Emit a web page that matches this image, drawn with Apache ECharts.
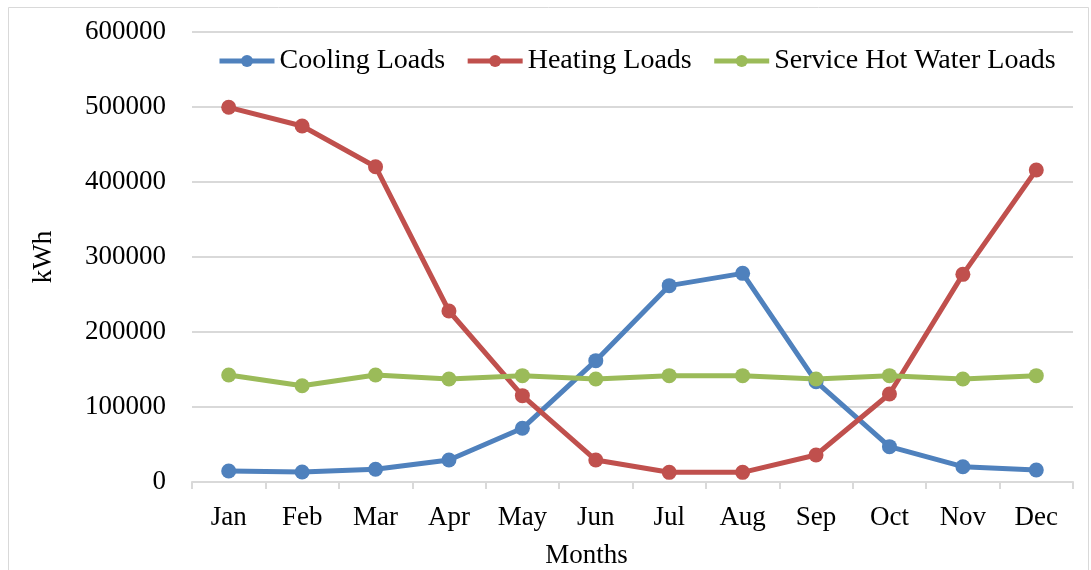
<!DOCTYPE html>
<html>
<head>
<meta charset="utf-8">
<script src="https://cdn.jsdelivr.net/npm/echarts@6/dist/echarts.min.js"></script>
<style>
  html, body { margin: 0; padding: 0; background: #fff; }
  #m1 { width: 1091px; height: 570px; }
</style>
</head>
<body>
<div id="m1"></div>
<script>
var months = ['Jan', 'Feb', 'Mar', 'Apr', 'May', 'Jun', 'Jul', 'Aug', 'Sep', 'Oct', 'Nov', 'Dec'];
var coolingLoads = [14700, 13300, 17000, 29300, 71600, 161800, 261800, 278200, 133800, 47100, 20400, 16000];
var heatingLoads = [499600, 474700, 420400, 228000, 115100, 29300, 12900, 12900, 36000, 117300, 276900, 416000];
var hotWaterLoads = [142700, 128400, 142700, 137300, 141800, 137300, 141800, 141800, 137300, 141800, 137300, 141800];
var seriesNames = ['Cooling Loads', 'Heating Loads', 'Service Hot Water Loads'];

var font = 'Liberation Serif';
var myChart = echarts.init(document.getElementById('m1'));

function lineSeries(name, data, color) {
    return {
        name: name,
        type: 'line',
        data: data,
        symbol: 'circle',
        symbolSize: 15,
        itemStyle: { color: color },
        lineStyle: { color: color, width: 5 }
    };
}

var option = {
    backgroundColor: '#fff',
    animation: false,
    graphic: [{
        type: 'rect',
        shape: { x: 8.5, y: 7.5, width: 1080, height: 570 },
        style: { fill: 'none', stroke: '#d9d9d9', lineWidth: 1 },
        z: -1
    }],
    legend: {
        data: seriesNames,
        left: 212,
        top: 42,
        itemWidth: 55,
        itemHeight: 15,
        itemGap: 20,
        lineStyle: { width: 5 },
        textStyle: { fontFamily: font, fontSize: 28, color: '#000' }
    },
    grid: { left: 192, right: 18, top: 32, bottom: 88, outerBoundsMode: 'none' },
    xAxis: {
        type: 'category',
        data: months,
        name: 'Months',
        nameLocation: 'middle',
        nameGap: 60,
        nameTextStyle: { fontFamily: font, fontSize: 27, color: '#000', padding: [0, 92, 0, 0] },
        axisLine: { lineStyle: { color: '#d9d9d9', width: 2 } },
        axisTick: { show: true, length: 7, lineStyle: { color: '#d9d9d9', width: 2 } },
        axisLabel: { fontFamily: font, fontSize: 27, color: '#000', margin: 22 }
    },
    yAxis: {
        type: 'value',
        min: 0,
        max: 600000,
        interval: 100000,
        name: 'kWh',
        nameLocation: 'middle',
        nameGap: 135,
        nameTextStyle: { fontFamily: font, fontSize: 27, color: '#000' },
        axisLine: { show: false },
        axisTick: { show: false },
        axisLabel: { fontFamily: font, fontSize: 27, color: '#000', margin: 26, formatter: function (v) { return String(v); } },
        splitLine: { lineStyle: { color: '#d9d9d9', width: 2 } }
    },
    series: [
        lineSeries(seriesNames[0], coolingLoads, '#4f81bd'),
        lineSeries(seriesNames[1], heatingLoads, '#c0504d'),
        lineSeries(seriesNames[2], hotWaterLoads, '#9bbb59')
    ]
};

myChart.setOption(option);
</script>
</body>
</html>
